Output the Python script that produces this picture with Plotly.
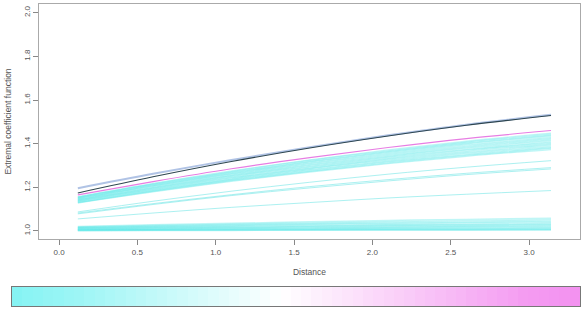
import plotly.graph_objects as go

# Distances at which curves were read
distance = [0.12, 0.6, 1.1, 1.6, 2.1, 2.6, 3.14]

# Individual highlighted curves
upper_blue = [1.196, 1.262, 1.325, 1.384, 1.438, 1.487, 1.532]
dark_curve = [1.174, 1.248, 1.318, 1.380, 1.435, 1.484, 1.529]
magenta_curve = [1.165, 1.226, 1.285, 1.336, 1.382, 1.423, 1.460]

# Main cyan band of curves
band_curves = [
    [1.157, 1.218, 1.275, 1.326, 1.371, 1.411, 1.448],
    [1.155, 1.216, 1.272, 1.323, 1.367, 1.407, 1.444],
    [1.154, 1.213, 1.269, 1.319, 1.363, 1.403, 1.439],
    [1.152, 1.211, 1.266, 1.316, 1.360, 1.399, 1.435],
    [1.150, 1.208, 1.263, 1.312, 1.355, 1.394, 1.429],
    [1.148, 1.206, 1.260, 1.308, 1.351, 1.389, 1.424],
    [1.146, 1.203, 1.256, 1.304, 1.346, 1.384, 1.419],
    [1.144, 1.200, 1.253, 1.300, 1.342, 1.379, 1.414],
    [1.142, 1.197, 1.250, 1.296, 1.338, 1.374, 1.408],
    [1.140, 1.195, 1.246, 1.292, 1.333, 1.370, 1.403],
    [1.138, 1.192, 1.243, 1.288, 1.329, 1.365, 1.398],
    [1.136, 1.189, 1.239, 1.285, 1.324, 1.360, 1.393],
    [1.134, 1.186, 1.236, 1.281, 1.320, 1.355, 1.387],
    [1.131, 1.184, 1.233, 1.277, 1.316, 1.350, 1.382],
    [1.130, 1.181, 1.230, 1.273, 1.312, 1.346, 1.378],
    [1.128, 1.179, 1.227, 1.270, 1.308, 1.342, 1.373],
]

# Isolated middle curves
middle_curves = [
    [1.087, 1.136, 1.182, 1.223, 1.260, 1.292, 1.322],
    [1.082, 1.125, 1.166, 1.203, 1.235, 1.264, 1.290],
    [1.078, 1.121, 1.162, 1.197, 1.229, 1.258, 1.284],
    [1.055, 1.082, 1.108, 1.130, 1.151, 1.168, 1.185],
]

# Bottom band of near-flat curves
bottom_curves = [
    [1.020, 1.028, 1.035, 1.042, 1.048, 1.053, 1.058],
    [1.018, 1.025, 1.031, 1.037, 1.042, 1.047, 1.051],
    [1.016, 1.022, 1.028, 1.033, 1.037, 1.041, 1.045],
    [1.015, 1.020, 1.025, 1.030, 1.033, 1.037, 1.040],
    [1.013, 1.017, 1.022, 1.025, 1.028, 1.031, 1.034],
    [1.012, 1.016, 1.019, 1.022, 1.025, 1.028, 1.030],
    [1.010, 1.013, 1.016, 1.019, 1.022, 1.024, 1.026],
    [1.008, 1.011, 1.014, 1.016, 1.018, 1.020, 1.022],
    [1.007, 1.009, 1.011, 1.013, 1.015, 1.017, 1.018],
    [1.005, 1.007, 1.009, 1.010, 1.012, 1.013, 1.014],
    [1.004, 1.005, 1.007, 1.008, 1.009, 1.010, 1.011],
    [1.003, 1.004, 1.005, 1.006, 1.007, 1.007, 1.008],
    [1.002, 1.003, 1.003, 1.004, 1.005, 1.005, 1.006],
    [1.001, 1.002, 1.002, 1.003, 1.003, 1.003, 1.004],
]

# Colour legend strip values (cyan -> white -> magenta)
legend_values = [0.00, 0.02, 0.03, 0.05, 0.06, 0.08, 0.09, 0.11, 0.13, 0.15,
                 0.17, 0.19, 0.21, 0.23, 0.25, 0.27, 0.29, 0.31, 0.33, 0.35,
                 0.37, 0.39, 0.41, 0.43, 0.45, 0.47, 0.49, 0.51, 0.53, 0.55,
                 0.57, 0.59, 0.61, 0.63, 0.65, 0.67, 0.69, 0.71, 0.73, 0.75,
                 0.77, 0.79, 0.81, 0.83, 0.85, 0.87, 0.89, 0.91, 0.93, 0.95,
                 0.96, 0.97, 0.98, 0.99, 1.00]

x_ticks = [0.0, 0.5, 1.0, 1.5, 2.0, 2.5, 3.0]
y_ticks = [1.0, 1.2, 1.4, 1.6, 1.8, 2.0]

fig = go.Figure()

cyan = "rgba(90,232,232,0.38)"
for c in bottom_curves:
    fig.add_trace(go.Scatter(x=distance, y=c, mode="lines", line=dict(color=cyan, width=1.4, shape="spline"), hoverinfo="skip"))
for c in middle_curves:
    fig.add_trace(go.Scatter(x=distance, y=c, mode="lines", line=dict(color="rgba(90,225,225,0.5)", width=1, shape="spline"), hoverinfo="skip"))
for c in band_curves:
    fig.add_trace(go.Scatter(x=distance, y=c, mode="lines", line=dict(color=cyan, width=1.3, shape="spline"), hoverinfo="skip"))
fig.add_trace(go.Scatter(x=distance, y=magenta_curve, mode="lines", line=dict(color="#e77ee3", width=1.1, shape="spline"), hoverinfo="skip"))
fig.add_trace(go.Scatter(x=distance, y=upper_blue, mode="lines", line=dict(color="rgba(150,175,220,0.75)", width=2, shape="spline"), hoverinfo="skip"))
fig.add_trace(go.Scatter(x=distance, y=dark_curve, mode="lines", line=dict(color="#2e4650", width=1.1, shape="spline"), hoverinfo="skip"))

fig.add_trace(go.Heatmap(
    z=[legend_values], x=list(range(len(legend_values))), y=[0],
    colorscale=[[0, "#86f3f3"], [0.48, "#ffffff"], [1, "#f392f0"]],
    showscale=False, xaxis="x2", yaxis="y2", hoverinfo="skip"))

font_col = "#555555"
fig.update_layout(
    width=585, height=312,
    margin=dict(l=12, r=5, t=4, b=6),
    paper_bgcolor="white", plot_bgcolor="white",
    showlegend=False,
    font=dict(family="Liberation Sans, Arial, sans-serif", size=8, color=font_col),
    xaxis=dict(domain=[0.0475, 1], range=[-0.128, 3.325], tickvals=x_ticks,
               ticktext=[f"{v:.1f}" for v in x_ticks],
               ticks="outside", ticklen=5, tickcolor="#888", showgrid=False, zeroline=False,
               showline=True, linecolor="#aaaaaa", linewidth=1, mirror=True,
               title=dict(text="Distance", font=dict(size=8.5, color=font_col), standoff=13),
               anchor="y", automargin=False),
    yaxis=dict(domain=[0.2219, 1], range=[0.963, 2.04], tickvals=y_ticks,
               ticktext=[f"{v:.1f}" for v in y_ticks], tickangle=-90,
               ticks="outside", ticklen=5, tickcolor="#888", showgrid=False, zeroline=False,
               showline=True, linecolor="#aaaaaa", linewidth=1, mirror=True,
               title=dict(text="Extremal coefficient function", font=dict(size=8.5, color=font_col), standoff=9),
               anchor="x", automargin=False),
    xaxis2=dict(domain=[0, 1], range=[-0.5, len(legend_values) - 0.5], showticklabels=False,
                ticks="", showgrid=False, zeroline=False, showline=True, linecolor="#777777",
                mirror=True, anchor="y2"),
    yaxis2=dict(domain=[0, 0.0629], range=[-0.5, 0.5], showticklabels=False, ticks="",
                showgrid=False, zeroline=False, showline=True, linecolor="#777777",
                mirror=True, anchor="x2"),
)

fig.write_html("out.html")
